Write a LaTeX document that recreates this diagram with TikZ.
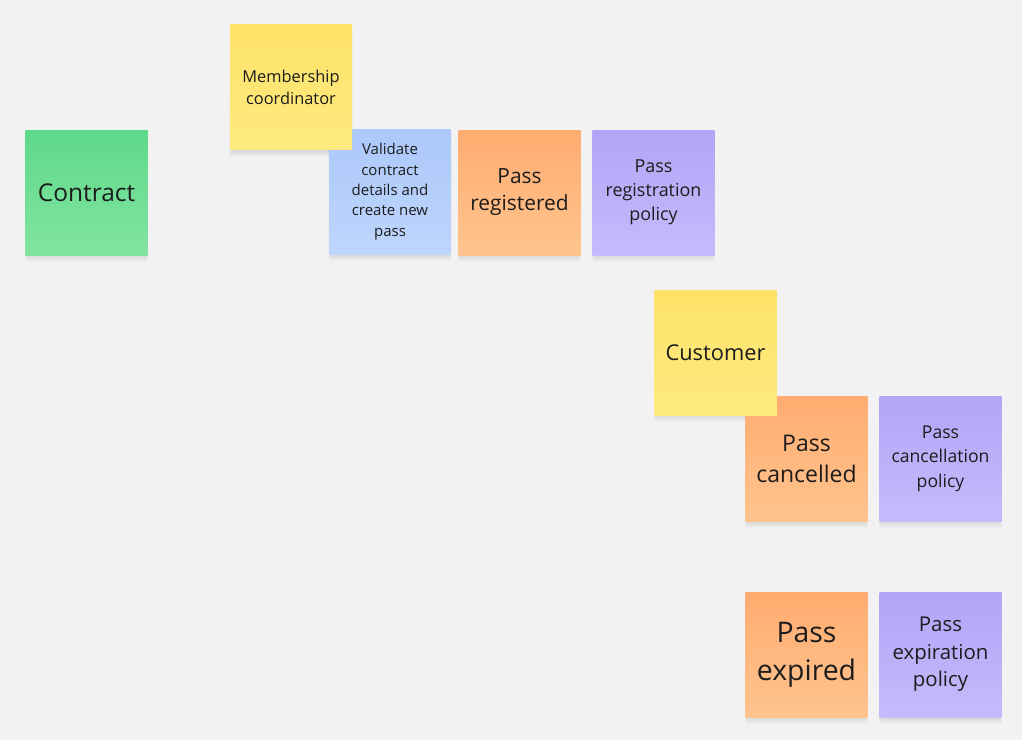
\documentclass[tikz,border=0pt]{standalone}
\usepackage{fontspec}
\setmainfont{Open Sans}
\usetikzlibrary{backgrounds}
\definecolor{board}{HTML}{F2F2F2}
\definecolor{inktext}{HTML}{1C1C1C}
\newcommand{\notew}{122pt}
\newcommand{\noteh}{125pt}

\begin{document}
\begin{tikzpicture}[x=1pt,y=-1pt]
        \tikzset{note/.style = {minimum width = \notew, minimum height = \noteh, inner sep = 2pt,
                    align = center, text = inktext},
            greennote/.style = {note, top color = {rgb,255:red,94;green,217;blue,137}, bottom color = {rgb,255:red,130;green,228;blue,160}},
            yellownote/.style = {note, top color = {rgb,255:red,253;green,226;blue,104}, bottom color = {rgb,255:red,254;green,234;blue,128}},
            bluenote/.style = {note, top color = {rgb,255:red,172;green,200;blue,251}, bottom color = {rgb,255:red,190;green,214;blue,252}},
            orangenote/.style = {note, top color = {rgb,255:red,255;green,172;blue,112}, bottom color = {rgb,255:red,255;green,196;blue,142}},
            purplenote/.style = {note, top color = {rgb,255:red,177;green,165;blue,247}, bottom color = {rgb,255:red,197;green,187;blue,251}}}
        %\draw[help lines] (0,0) grid[step=50] (1022,740);
        \node[greennote, font = \fontsize{24.5}{32}\selectfont] (contract) at (86.5,192.5) {Contract};
        \node[bluenote, font = \fontsize{15}{20.3}\selectfont] (validate) at (390,191.5) {Validate\\contract\\details and\\create new\\pass};
        \node[yellownote, font = \fontsize{16.4}{22}\selectfont] (coordinator) at (291,87) {Membership\\coordinator};
        \node[orangenote, font = \fontsize{20.9}{27}\selectfont] (registered) at (519.5,192.5) {Pass\\registered};
        \node[purplenote, font = \fontsize{17.9}{24}\selectfont] (regpolicy) at (653.5,192.5) {Pass\\registration\\policy};
        \node[orangenote, font = \fontsize{23}{31}\selectfont] (cancelled) at (806.5,458.5) {Pass\\cancelled};
        \node[yellownote, font = \fontsize{21.8}{30}\selectfont] (customer) at (715.5,352.5) {Customer};
        \node[purplenote, font = \fontsize{17.6}{24.5}\selectfont] (cancpolicy) at (940.5,458.5) {Pass\\cancellation\\policy};
        \node[orangenote, font = \fontsize{28.4}{38}\selectfont] (expired) at (806.5,654.5) {Pass\\expired};
        \node[purplenote, font = \fontsize{20.4}{27.5}\selectfont] (exppolicy) at (940.5,654.5) {Pass\\expiration\\policy};
        % board and soft shadows
        \begin{scope}[on background layer]
            \fill[board] (0,0) rectangle (1022,740);
            \foreach \n in {contract,validate,coordinator,registered,regpolicy,cancelled,customer,cancpolicy,expired,exppolicy}
                \foreach \d in {1,...,7}
                    \fill[black, opacity = 0.016] ([xshift = 3pt-0.5*\d pt, yshift = -\d pt]\n.south west) rectangle ([xshift = -3pt+0.5*\d pt, yshift = -\d pt]\n.north east);
        \end{scope}
    \end{tikzpicture}
\end{document}
